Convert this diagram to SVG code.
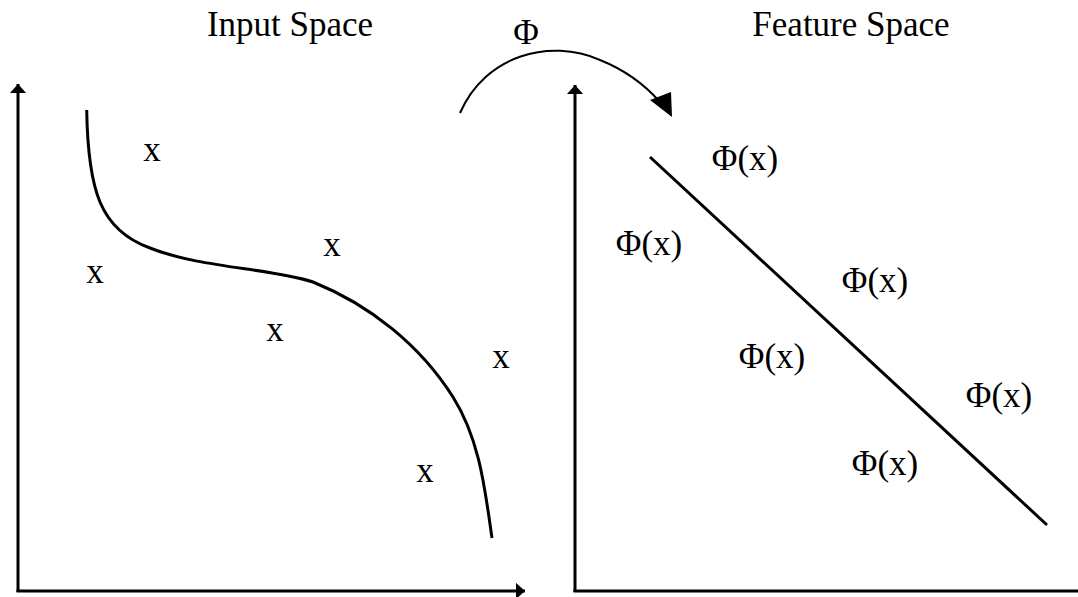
<svg xmlns="http://www.w3.org/2000/svg" width="1078" height="597" viewBox="0 0 1078 597">
<style>
.ax{stroke:#000;stroke-width:3;fill:none}
.ln{stroke:#000;stroke-width:3;fill:none}
.arc{stroke:#000;stroke-width:2;fill:none}
text{font-family:"Liberation Serif","Times New Roman",serif;font-size:35px;fill:#000}
.c{text-anchor:middle}
</style>
<defs>
<marker id="ah" markerWidth="4" markerHeight="6" refX="3" refY="2.7" orient="auto" markerUnits="strokeWidth">
<path d="M0,0 L3,2.7 L0,5.4 Z" fill="#000"/>
</marker>
</defs>
<rect width="1078" height="597" fill="#fff"/>
<g id="connectors">
<path class="ax" d="M18,592 V84" marker-end="url(#ah)"/>
<path class="ax" d="M16.5,591 H525" marker-end="url(#ah)"/>
<path class="ax" d="M575,592 V85" marker-end="url(#ah)"/>
<path class="ax" d="M573.5,591 H1078"/>
<path class="ln" d="M86.7,110 C88,190 100,230 150,248 C200,268 270,268 313,282 C370,305 420,345 453,397 C480,440 485,490 492,538"/>
<path class="ln" d="M650,157 L1047,525"/>
<path class="arc" d="M460,113 C485,55 550,38 600,60 C625,70 645,85 660,102"/>
<polygon points="650,100 671,92 672,117" fill="#000"/>
</g>
<g id="titles">
<text x="290" y="36" class="c">Input Space</text>
<text x="851" y="36" class="c">Feature Space</text>
<text x="526" y="44" class="c">Φ</text>
</g>
<g id="input-points">
<text x="152" y="161" class="c">x</text>
<text x="332" y="256" class="c">x</text>
<text x="95" y="283" class="c">x</text>
<text x="275" y="341" class="c">x</text>
<text x="501" y="368" class="c">x</text>
<text x="425" y="482" class="c">x</text>
</g>
<g id="feature-points">
<text x="745" y="170" class="c">Φ(x)</text>
<text x="649" y="255" class="c">Φ(x)</text>
<text x="875" y="292" class="c">Φ(x)</text>
<text x="772" y="368" class="c">Φ(x)</text>
<text x="999" y="407" class="c">Φ(x)</text>
<text x="885" y="475" class="c">Φ(x)</text>
</g>
</svg>
